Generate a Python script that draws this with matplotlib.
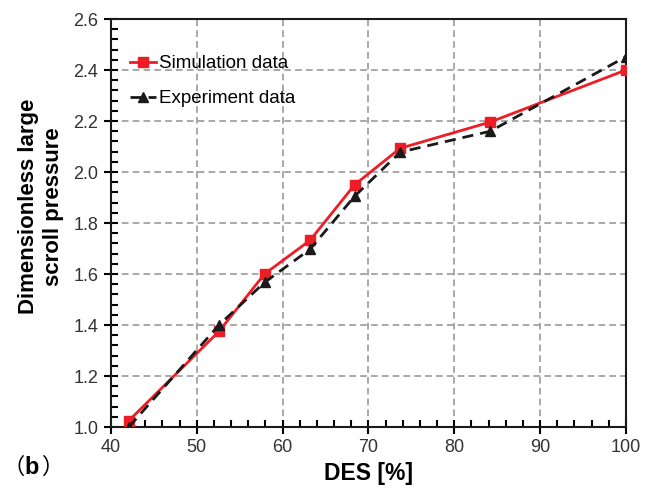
import matplotlib
matplotlib.use("Agg")
import matplotlib.pyplot as plt
from matplotlib.ticker import MultipleLocator

des = [42.1, 52.6, 57.9, 63.2, 68.4, 73.7, 84.2, 100.0]
sim = [1.025, 1.375, 1.600, 1.732, 1.950, 2.093, 2.196, 2.400]
exp_ = [1.000, 1.400, 1.567, 1.697, 1.905, 2.078, 2.160, 2.452]
xticks = [40, 50, 60, 70, 80, 90, 100]
yticks = [1.0, 1.2, 1.4, 1.6, 1.8, 2.0, 2.2, 2.4, 2.6]

plt.rcParams['font.family'] = ['Liberation Sans', 'DejaVu Sans']

fig = plt.figure(figsize=(6.52, 4.88), dpi=100)
ax = fig.add_axes([0.170, 0.125, 0.790, 0.836])

ax.plot(des, sim, color='#ee1c25', lw=2.0, marker='s', ms=7, label='Simulation data', zorder=3)
ax.plot(des, exp_, color='#1a1a1a', lw=2.0, ls=(0, (4, 2.5)), marker='^', ms=7, label='Experiment data', zorder=4)

ax.set_xlim(40, 100)
ax.set_ylim(1.0, 2.6)
ax.set_xticks(xticks)
ax.set_yticks(yticks)
ax.set_yticklabels([f"{v:.1f}" for v in yticks])
ax.xaxis.set_minor_locator(MultipleLocator(2))
ax.yaxis.set_minor_locator(MultipleLocator(0.04))
ax.tick_params(which='major', direction='inout', length=10, width=1.5, labelsize=13, labelcolor='#333333', pad=4)
ax.tick_params(which='minor', direction='in', length=5, width=1.5)
for s in ax.spines.values():
    s.set_linewidth(1.5)
    s.set_color('#1a1a1a')
ax.grid(True, which='major', color='#999999', ls=(0, (4, 2.5)), lw=1.2)
ax.set_axisbelow(True)

ax.set_xlabel('DES [%]', fontsize=16.5, fontweight='bold', labelpad=4)
ax.set_ylabel('Dimensionless large\nscroll pressure', fontsize=16, fontweight='bold', linespacing=1.25)
ax.yaxis.set_label_coords(-0.09, 0.54)

leg = ax.legend(loc='upper left', frameon=False, fontsize=13.5, handlelength=1.4,
                handletextpad=0.15, labelspacing=0.95, borderaxespad=0.0,
                bbox_to_anchor=(0.022, 0.93))

t1 = fig.text(0.004, 0.018, '（', fontsize=16, family=['Noto Sans CJK SC'], va='bottom')
t2 = ax.annotate('b', xy=(0.99, 0), xycoords=t1, fontsize=17, fontweight='bold', va='bottom')
t3 = ax.annotate('）', xy=(1.0, 0), xycoords=t2, xytext=(2, 0), textcoords='offset points',
                 fontsize=16, family=['Noto Sans CJK SC'], va='bottom')

fig.savefig('out.png', dpi=100)
